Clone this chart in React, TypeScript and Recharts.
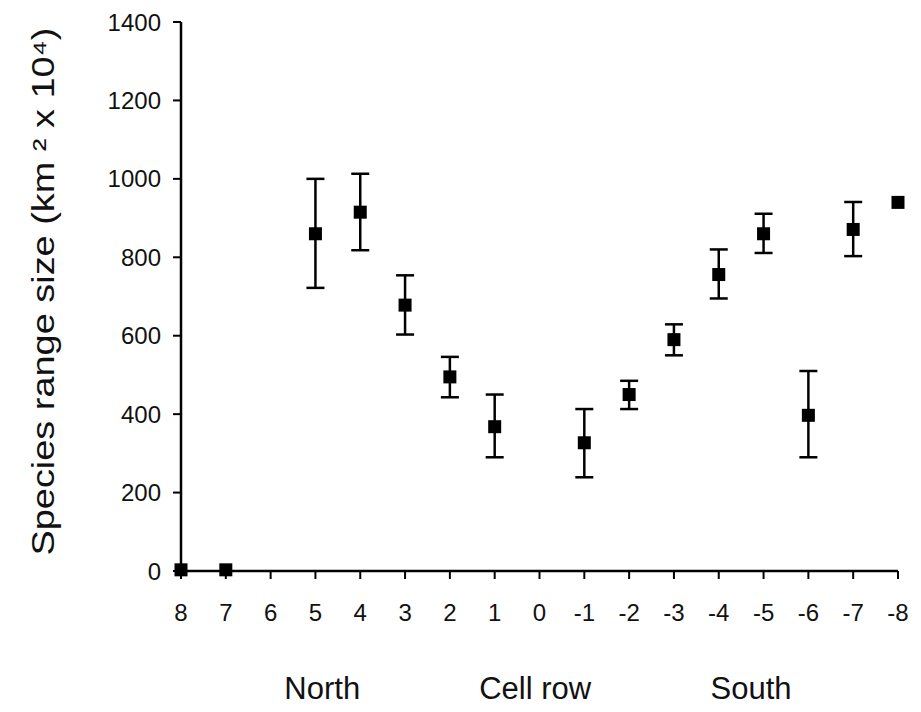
import React from 'react';
import { ScatterChart, Scatter, XAxis, YAxis, ErrorBar } from 'recharts';

const rows = [8, 7, 5, 4, 3, 2, 1, -1, -2, -3, -4, -5, -6, -7, -8];
const means = [3, 3, 860, 915, 678, 495, 368, 327, 450, 590, 756, 860, 397, 871, 940];
const lows = [null, null, 722, 818, 603, 443, 290, 239, 413, 550, 695, 811, 290, 803, null];
const highs = [null, null, 1000, 1013, 754, 546, 450, 413, 485, 629, 820, 911, 510, 941, null];

const xTicks = [8, 7, 6, 5, 4, 3, 2, 1, 0, -1, -2, -3, -4, -5, -6, -7, -8];
const yTicks = [0, 200, 400, 600, 800, 1000, 1200, 1400];

const yLabel = 'Species range size (km \u00B2 x 10\u2074)';
const regionLabels = ['North', 'Cell row', 'South'];
const regionPos = [0.197, 0.494, 0.795];

const data = rows.map((r, i) => ({
  row: r,
  value: means[i],
  err: lows[i] == null ? undefined : [means[i] - (lows[i] as number), (highs[i] as number) - means[i]],
}));

const FONT = '"Liberation Sans", Arial, Helvetica, sans-serif';

const XLabel = (props: any) => {
  const vb = props.viewBox || {};
  return (
    <g>
      {regionLabels.map((t, i) => (
        <text
          key={t}
          x={vb.x + vb.width * regionPos[i]}
          y={vb.y + 128}
          textAnchor="middle"
          fontSize={31}
          fontFamily={FONT}
          fill="#111"
        >
          {t}
        </text>
      ))}
    </g>
  );
};

const YLabel = (props: any) => {
  const vb = props.viewBox || {};
  const cx = 43;
  const cy = vb.y + vb.height / 2 - 5;
  return (
    <text
      x={cx}
      y={cy}
      transform={`rotate(-90 ${cx} ${cy})`}
      textAnchor="middle"
      dominantBaseline="central"
      fontSize={31}
      fontFamily={FONT}
      fill="#111"
      textLength={528}
      lengthAdjust="spacingAndGlyphs"
    >
      {yLabel}
    </text>
  );
};

const SquareMark = (p: any) => {
  if (p.cx == null || p.cy == null) return null;
  return <rect x={p.cx - 6.5} y={p.cy - 6.5} width={13} height={13} fill="#000" />;
};

export default function App() {
  return (
    <div style={{ position: 'absolute', left: 0, top: 0, background: '#fff' }}>
      <ScatterChart
        width={921}
        height={712}
        margin={{ top: 22, right: 23, bottom: 81, left: 81 }}
        style={{ overflow: 'visible' }}
      >
        <XAxis
          type="number"
          dataKey="row"
          domain={[-8, 8]}
          reversed
          ticks={xTicks}
          interval={0}
          height={60}
          stroke="#000"
          axisLine={{ stroke: '#000', strokeWidth: 2.5 }}
          tickLine={{ stroke: '#000', strokeWidth: 2 }}
          tickSize={8}
          tick={{ fill: '#111', fontSize: 24, fontFamily: '"Liberation Sans Narrow", ' + FONT, dy: 23 }}
          label={<XLabel />}
        />
        <YAxis
          type="number"
          dataKey="value"
          domain={[0, 1400]}
          ticks={yTicks}
          interval={0}
          width={100}
          stroke="#000"
          axisLine={{ stroke: '#000', strokeWidth: 2.5 }}
          tickLine={{ stroke: '#000', strokeWidth: 2 }}
          tickSize={8}
          tick={{ fill: '#111', fontSize: 24, fontFamily: FONT, dx: -10 }}
          label={<YLabel />}
        />
        <Scatter data={data} fill="#000" shape={<SquareMark />} isAnimationActive={false}>
          <ErrorBar dataKey="err" direction="y" width={9} strokeWidth={2.5} stroke="#000" isAnimationActive={false} />
        </Scatter>
      </ScatterChart>
    </div>
  );
}
